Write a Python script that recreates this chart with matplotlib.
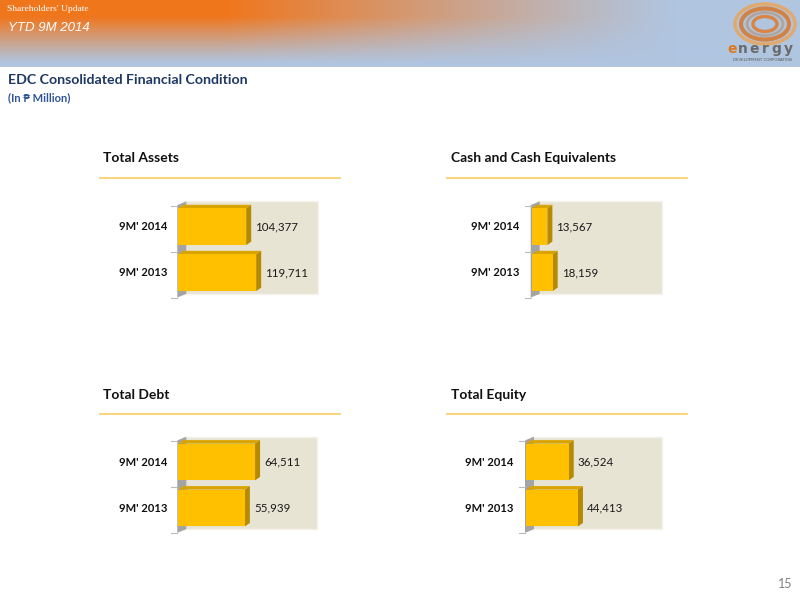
import numpy as np
import matplotlib
matplotlib.use("Agg")
import matplotlib.pyplot as plt
from matplotlib.patches import Polygon, Rectangle, Ellipse

# ----------------- data -------------------
periods = ["9M' 2013", "9M' 2014"]
total_assets = [119711, 104377]
cash_equiv = [18159, 13567]
total_debt = [55939, 64511]
total_equity = [44413, 36524]

panel_titles = ["Total Assets", "Cash and Cash Equivalents", "Total Debt", "Total Equity"]
panel_values = [total_assets, cash_equiv, total_debt, total_equity]

W, H = 800, 600
FONT = ['Lato', 'DejaVu Sans']

fig = plt.figure(figsize=(8, 6), dpi=100)
fig.patch.set_facecolor('white')


def box(x0, y0, x1, y1):
    # pixel box (top-left origin) -> figure fraction rect
    return [x0 / W, 1 - y1 / H, (x1 - x0) / W, (y1 - y0) / H]


# ----------------- header band -------------------
hdr = fig.add_axes(box(0, 0, 800, 67))
xx, yy = np.meshgrid(np.linspace(0, 800, 400), np.linspace(0, 67, 60))
w = np.clip((1 - yy / 64) * 1.35, 0, 1) * np.clip(1.5 - xx / 450, 0, 1)
w = np.clip(w, 0, 1) ** 1.1
orange = np.array([240, 118, 28]) / 255
blue = np.array([176, 197, 224]) / 255
img = w[..., None] * orange + (1 - w[..., None]) * blue
hdr.imshow(img, extent=[0, 800, 67, 0], aspect='auto')
hdr.set_xlim(0, 800)
hdr.set_ylim(67, 0)
hdr.axis('off')
hdr.text(7, 9, "Shareholders' Update", color='white', fontsize=6.8,
         family='Liberation Serif', va='center')
hdr.text(8, 28, "YTD 9M 2014", color='white', fontsize=9.5, style='italic',
         family='Liberation Sans', va='center')

# logo rings
for rw, rh, c, lw in [(60, 40, '#E9A45A', 2.5), (48, 31, '#D9772A', 3),
                      (36, 23, '#B0A090', 2), (24, 15, '#E07A2A', 2.5)]:
    hdr.add_patch(Ellipse((765, 24), rw, rh, fill=False, ec=c, lw=lw, alpha=0.85))
for i, ch in enumerate("energy"):
    hdr.text(732 + i * 11.2, 49, ch, color='#E07A20' if i == 0 else '#6A6A6A',
             fontsize=10, fontweight='bold', family='DejaVu Sans', ha='center', va='center')
hdr.text(762, 60, "DEVELOPMENT CORPORATION", color='#555555', fontsize=2.8,
         ha='center', va='center', family='DejaVu Sans')

# ----------------- page titles -------------------
fig.text(8 / W, 1 - 80.5 / H, "EDC Consolidated Financial Condition", color='#1F3864',
         fontsize=10.2, fontweight='bold', family=FONT, va='center')
fig.text(8 / W, 1 - 98 / H, "(In \u20b1 Million)", color='#2F5597',
         fontsize=8, fontweight='bold', family=FONT, va='center')
fig.text(792 / W, 1 - 584 / H, "15", color='#808080', fontsize=9, ha='right',
         va='center', family=FONT)

# ----------------- panels -------------------
# title x, title y, line x0, line x1, line y, axis x, 2014 centre y, wall right x, value at wall, label right x
layouts = [
    (103, 158, 100, 340, 178, 178.3, 226.7, 317.5, 214000, 167),
    (451, 158, 447, 687, 178, 531.7, 226.7, 661.7, 112500, 519),
    (103, 395, 100, 340, 414, 178.3, 462.0, 316.7, 116300, 167),
    (451, 395, 447, 687, 414, 526.0, 462.0, 661.7, 116000, 513),
]

SPACING = 46.0  # px between category centres
for title, vals, lay in zip(panel_titles, panel_values, layouts):
    tx, ty, lx0, lx1, ly, ax0, yc14, wr, wall_val, lab_x = lay
    fig.text(tx / W, 1 - ty / H, title, fontsize=10, fontweight='bold', color='#111111',
             family=FONT, va='center')
    fig.add_artist(plt.Line2D([lx0 / W, lx1 / W], [1 - ly / H, 1 - ly / H],
                              color='#F7D060', lw=1.2))

    pxu = (wr - ax0) / wall_val          # px per unit
    upx = 1 / pxu                        # units per px
    top_px = yc14 - 31
    bot_px = yc14 + SPACING + 28
    ax = fig.add_axes(box(ax0 - 8, top_px, wr + 2, bot_px))
    ax.set_xlim(-8 * upx, wall_val + 2 * upx)
    ax.set_ylim(-28 / SPACING, 1 + 31 / SPACING)
    ax.axis('off')

    dx = 5 * upx
    dy = 3.5 / SPACING
    wall_lo, wall_hi = -0.46, 1.55
    # back wall
    ax.add_patch(Rectangle((dx, wall_lo), wall_val - dx, wall_hi - wall_lo,
                           fc='#E8E4D4', ec='#F4F2EA', lw=1, zorder=1))
    # left wall
    lw_w = 8 * upx
    ax.add_patch(Polygon([(-1 * upx, wall_lo - 0.08), (lw_w, wall_lo), (lw_w, wall_hi),
                          (-1 * upx, wall_hi - 0.08)], closed=True,
                         fc='#A4A4A4', ec='none', zorder=2))
    for t in [-0.5, 0.5, 1.5]:
        ax.plot([-7 * upx, -1 * upx], [t - 0.05, t - 0.05], color='#BBBBBB', lw=0.8, zorder=2)

    ys = np.arange(len(vals))
    h = 0.8
    ax.barh(ys, vals, height=h, color='#FFC000', edgecolor='none', zorder=4)
    for y, v in zip(ys, vals):
        # top face
        ax.add_patch(Polygon([(0, y + h / 2), (dx, y + h / 2 + dy), (v + dx, y + h / 2 + dy),
                              (v, y + h / 2)], closed=True, fc='#D9A300', ec='none', zorder=3))
        # side face
        ax.add_patch(Polygon([(v, y - h / 2), (v + dx, y - h / 2 + dy), (v + dx, y + h / 2 + dy),
                              (v, y + h / 2)], closed=True, fc='#B58A00', ec='none', zorder=3))
        ax.text(v + dx + 4 * upx, y, f"{v:,}", fontsize=8.3, color='#1A1A1A',
                family=FONT, va='center', ha='left', zorder=5)
        fig.text(lab_x / W, 1 - (yc14 + (1 - y) * SPACING) / H, periods[y], fontsize=8,
                 fontweight='bold', color='#111111', family=FONT, ha='right', va='center')

fig.savefig("out.png", dpi=100)
